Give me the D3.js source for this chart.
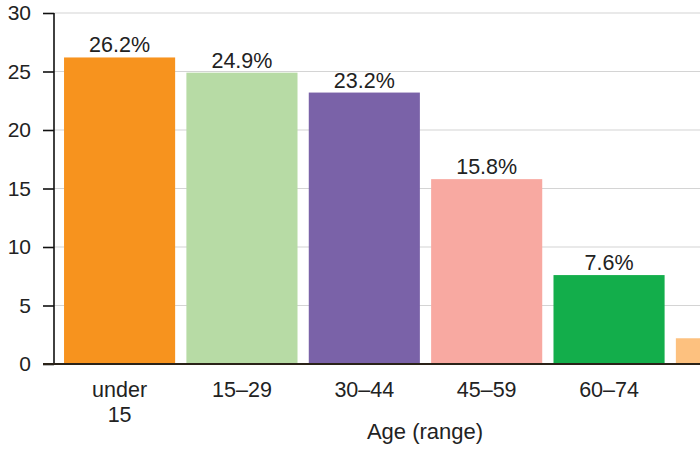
<!DOCTYPE html>
<html>
<head>
<meta charset="utf-8">
<script src="https://cdn.jsdelivr.net/npm/d3@7"></script>
<style>
  body { margin: 0; background: #fff; }
  text { font-family: "Liberation Sans", Arial, Helvetica, sans-serif; fill: #222; }
</style>
</head>
<body>
<script>
// Age distribution (share of population, %)
var categories = ["under 15", "15\u201329", "30\u201344", "45\u201359", "60\u201374", "75+"];
var values = [26.2, 24.9, 23.2, 15.8, 7.6, 2.2];
var barColors = ["#f7931e", "#b7dba5", "#7a62a8", "#f8a9a1", "#13ae4b", "#fdc17f"];
var yTicks = [0, 5, 10, 15, 20, 25, 30];

var svgWidth = 700;
var svgHeight = 467;

var svg = d3.select("body")
  .append("svg")
  .attr("width", svgWidth)
  .attr("height", svgHeight);

// scales
var xScale = d3.scaleBand()
  .domain(categories)
  .range([54, 797])
  .paddingInner(0.092)
  .paddingOuter(0.082);

var yScale = d3.scaleLinear()
  .domain([0, 30])
  .range([364, 13]);

var barCenter = (c) => xScale(c) + xScale.bandwidth() / 2;
// the chart is cropped on the right; skip labels that would fall outside
var onScreen = (c) => barCenter(c) < svgWidth;

// gridlines
svg.append("g")
  .selectAll("line")
  .data(yTicks)
  .enter()
  .append("line")
  .attr("x1", 54)
  .attr("x2", svgWidth)
  .attr("y1", d => yScale(d))
  .attr("y2", d => yScale(d))
  .attr("stroke", "#d4d4d4")
  .attr("stroke-width", 1.2);

// bars
svg.append("g")
  .selectAll("rect")
  .data(values)
  .enter()
  .append("rect")
  .attr("x", (d, i) => xScale(categories[i]))
  .attr("y", d => yScale(d))
  .attr("width", xScale.bandwidth())
  .attr("height", d => yScale(0) - yScale(d))
  .attr("fill", (d, i) => barColors[i]);

// value labels
svg.append("g")
  .selectAll("text")
  .data(values.filter((d, i) => onScreen(categories[i])))
  .enter()
  .append("text")
  .attr("x", (d, i) => barCenter(categories[i]))
  .attr("y", d => yScale(d) - 5)
  .attr("text-anchor", "middle")
  .style("font-size", "21.5px")
  .text(d => d.toFixed(1) + "%");

// y axis
var leftAxis = d3.axisLeft(yScale)
  .tickValues(yTicks)
  .tickSize(11)
  .tickPadding(12);

var yAxis = svg.append("g")
  .attr("transform", "translate(54, 0)")
  .call(leftAxis);
yAxis.select(".domain").attr("stroke", "#111").attr("stroke-width", 1.6)
  .attr("d", "M0,13V364");
yAxis.selectAll(".tick line").attr("stroke", "#111").attr("stroke-width", 1.6);
yAxis.selectAll(".tick text")
  .style("font-size", "21px")
  .style("font-family", "Liberation Sans, Arial, sans-serif")
  .attr("fill", "#222");

// x baseline
svg.append("line")
  .attr("x1", 43)
  .attr("x2", svgWidth)
  .attr("y1", yScale(0))
  .attr("y2", yScale(0))
  .attr("stroke", "#2a2218")
  .attr("stroke-width", 2.2);

// x tick labels (may wrap on two lines)
var xLabels = svg.append("g")
  .selectAll("text")
  .data(categories.filter(onScreen))
  .enter()
  .append("text")
  .attr("text-anchor", "middle")
  .attr("x", d => barCenter(d))
  .attr("y", 397)
  .style("font-size", "21.5px");

xLabels.each(function (d) {
  var parts = d.split(" ");
  var t = d3.select(this);
  parts.forEach((p, i) => {
    t.append("tspan")
      .attr("x", barCenter(d))
      .attr("dy", i == 0 ? 0 : 25)
      .text(p);
  });
});

// x axis title
svg.append("text")
  .attr("x", 425)
  .attr("y", 439)
  .attr("text-anchor", "middle")
  .style("font-size", "22px")
  .text("Age (range)");
</script>
</body>
</html>
